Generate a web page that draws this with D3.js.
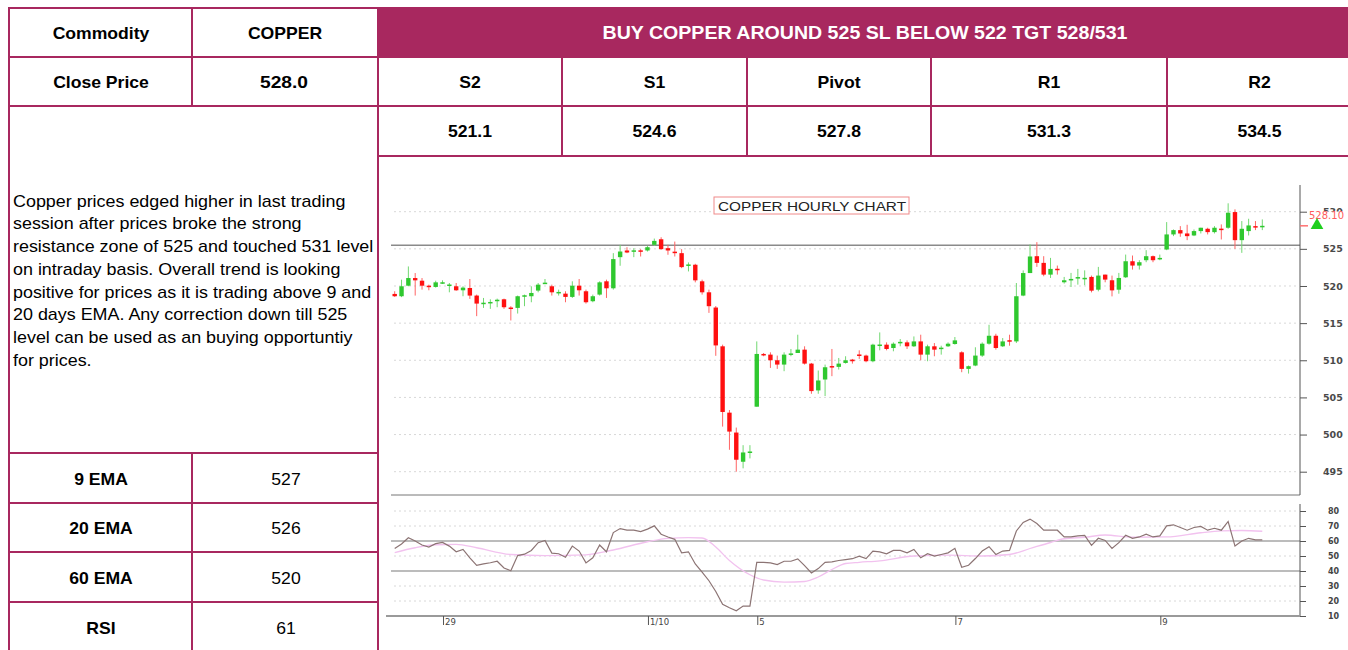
<!DOCTYPE html>
<html>
<head>
    <meta charset="utf-8">
    <title>Copper Hourly Chart</title>
    <script src="https://d3js.org/d3.v7.min.js"></script>
    <style>
        body { margin: 0; background: #fff; }
        svg { display: block; font-family: "Liberation Sans", Arial, sans-serif; }
    </style>
</head>
<body>
    <svg id="page" width="1348" height="650"></svg>

    <script>
        // ---- table content ----
        var commodity = "COPPER";
        var closePrice = "528.0";
        var callText = "BUY COPPER AROUND 525 SL BELOW 522 TGT 528/531";
        var pivotNames = ["S2", "S1", "Pivot", "R1", "R2"];
        var pivotValues = ["521.1", "524.6", "527.8", "531.3", "534.5"];
        var indNames = ["9 EMA", "20 EMA", "60 EMA", "RSI"];
        var indValues = ["527", "526", "520", "61"];
        var commentLines = [
            "Copper prices edged higher in last trading",
            "session after prices broke the strong",
            "resistance zone of 525 and touched 531 level",
            "on intraday basis. Overall trend is looking",
            "positive for prices as it is trading above 9 and",
            "20 days EMA. Any correction down till 525",
            "level can be used as an buying opportuntiy",
            "for prices."
        ];

        // ---- hourly candles ----
        var opens = [518.93, 518.62, 520.04, 521.07, 520.71, 520.04, 519.87, 520.45, 520.1, 519.96,
            519.42, 519.73, 518.71, 517.65, 517.75, 518.05, 518.21, 517.10, 517.05, 518.65,
            518.62, 519.38, 520.35, 519.96, 519.12, 518.97, 518.53, 520.04, 519.29, 517.95,
            518.84, 520.63, 519.69, 523.88, 524.78, 524.75, 524.8, 524.78, 525.54, 526.29,
            525.09, 524.62, 524.42, 522.8, 522.86, 520.63, 519.15, 517.1, 511.88, 502.95,
            500.27, 496.34, 497.65, 503.75, 510.85, 510.76, 510.0, 509.42, 510.85, 510.98,
            511.43, 509.55, 505.94, 507.41, 509.22, 509.11, 509.64, 510.09, 510.78, 510.63,
            509.87, 512.06, 512.10, 511.65, 512.44, 512.41, 511.88, 512.54, 510.76, 511.88,
            511.6, 511.88, 512.19, 511.07, 508.84, 509.29, 510.63, 512.23, 513.30, 511.88,
            512.7, 512.54, 518.71, 521.74, 524.01, 523.11, 521.53, 522.32, 520.5, 520.9,
            521.15, 521.05, 521.22, 519.50, 521.53, 520.77, 519.50, 521.17, 523.33, 522.75,
            523.47, 524.01, 523.70, 524.91, 526.94, 527.52, 527.07, 526.80, 527.39, 527.70,
            527.25, 527.72, 527.84, 529.95, 526.17, 527.39, 528.06, 528.08];
        var highs = [519.29, 520.85, 522.63, 521.74, 521.07, 520.18, 520.71, 520.76, 520.4, 520.40,
            519.96, 520.94, 518.84, 518.39, 518.21, 518.30, 518.30, 517.28, 518.71, 518.84,
            519.96, 520.40, 520.94, 520.18, 519.51, 519.29, 520.63, 520.94, 519.51, 518.84,
            520.63, 520.85, 524.42, 525.54, 525.22, 525.09, 524.96, 525.40, 526.38, 526.56,
            525.54, 525.98, 524.96, 523.17, 522.99, 520.85, 519.51, 517.3, 512.10, 503.30,
            500.94, 498.57, 498.57, 512.54, 510.98, 511.07, 510.63, 511.07, 511.52, 513.44,
            511.88, 509.64, 508.62, 509.42, 511.52, 510.31, 510.54, 510.18, 511.34, 510.76,
            512.23, 513.75, 512.41, 512.41, 512.86, 512.68, 513.21, 513.44, 512.10, 512.32,
            511.96, 512.41, 513.13, 511.21, 509.29, 511.75, 512.41, 514.78, 513.57, 512.99,
            513.44, 520.4, 522.1, 525.6, 525.90, 524.01, 523.78, 522.75, 521.22, 521.76,
            522.3, 522.1, 521.40, 522.57, 521.53, 521.40, 521.76, 524.23, 524.10, 523.47,
            524.82, 524.10, 524.23, 528.60, 527.61, 528.06, 528.24, 527.61, 527.84, 527.84,
            528.06, 528.29, 531.13, 530.32, 528.74, 529.05, 528.74, 528.96];
        var lows = [518.53, 518.5, 519.96, 518.71, 519.51, 519.42, 519.78, 520.27, 519.15, 519.35,
            518.62, 518.26, 515.94, 517.05, 516.92, 517.14, 516.92, 515.36, 516.29, 517.28,
            517.81, 519.15, 520.27, 518.71, 518.71, 517.81, 518.39, 518.71, 517.63, 517.81,
            518.71, 518.39, 519.51, 522.72, 524.42, 523.88, 523.97, 524.64, 525.40, 524.87,
            524.20, 523.97, 522.40, 521.96, 520.49, 518.84, 516.38, 510.6, 501.07, 497.95,
            495.0, 495.45, 496.79, 503.75, 510.54, 508.97, 508.84, 508.53, 510.54, 510.98,
            509.42, 505.49, 505.49, 505.18, 507.86, 508.75, 509.55, 509.55, 510.18, 509.73,
            509.73, 511.34, 511.34, 511.21, 511.88, 511.52, 511.79, 510.0, 509.87, 510.54,
            510.76, 511.79, 512.10, 508.39, 508.21, 509.20, 510.45, 512.10, 511.43, 511.79,
            511.96, 512.32, 518.62, 521.74, 522.57, 521.31, 521.08, 521.53, 520.32, 519.86,
            520.18, 520.1, 519.14, 519.28, 520.50, 518.60, 518.96, 521.08, 522.21, 522.21,
            523.20, 523.20, 523.47, 524.82, 526.71, 526.62, 526.17, 526.71, 527.07, 526.94,
            527.07, 526.26, 527.70, 525.0, 524.46, 526.80, 527.52, 527.52];
        var closes = [518.62, 519.96, 521.07, 520.76, 520.04, 519.87, 520.49, 520.5, 520.2, 519.42,
            519.78, 518.71, 517.63, 517.75, 517.85, 518.15, 517.14, 516.92, 518.62, 518.75,
            519.06, 520.18, 520.45, 519.15, 519.2, 518.53, 520.04, 519.42, 517.81, 518.62,
            520.49, 519.69, 523.62, 524.64, 524.51, 524.8, 524.75, 525.22, 526.07, 524.96,
            524.78, 524.58, 522.54, 522.9, 520.76, 519.15, 517.28, 512.0, 503.04, 500.40,
            496.61, 497.59, 497.72, 510.85, 510.67, 510.0, 509.42, 510.76, 510.92, 511.43,
            509.55, 505.85, 507.28, 509.06, 509.18, 509.55, 510.0, 509.87, 510.74, 509.87,
            512.10, 512.12, 511.52, 512.23, 512.48, 511.88, 512.54, 510.76, 511.88, 511.43,
            511.7, 512.23, 512.68, 508.84, 509.2, 510.63, 512.23, 513.30, 511.65, 512.54,
            512.62, 518.62, 521.74, 523.97, 523.11, 521.53, 522.30, 522.28, 520.77, 520.95,
            521.2, 521.1, 519.37, 521.40, 520.86, 519.41, 521.08, 523.33, 522.75, 523.20,
            524.01, 523.47, 523.78, 526.94, 527.52, 527.07, 526.71, 527.39, 527.84, 527.25,
            527.84, 527.68, 529.86, 526.17, 527.70, 528.15, 528.0, 528.10];

        // ---- RSI and its average ----
        var rsi = [55, 58, 62.2, 60, 57.3, 56, 58.2, 59, 56.6, 52.8,
            54.4, 48.8, 43.8, 44.7, 45.5, 46.5, 42, 40.2, 50.3, 51.2,
            53.7, 58.9, 60.4, 51.9, 51.5, 49.2, 56.6, 53.3, 45.4, 48.8,
            57.3, 52.8, 65.6, 68.3, 67.2, 67.2, 66.3, 67.9, 70.1, 64.5,
            62.7, 61.1, 52.1, 52.8, 44.7, 39.3, 33.5, 26.3, 17.8, 15.5,
            13.5, 16.6, 16.6, 45.8, 45.8, 45.4, 44.3, 46.5, 46.5, 48.1,
            43.6, 38.7, 41.6, 45.8, 46.1, 47, 47.6, 48.2, 49.9, 48.3,
            53.3, 52.8, 51.5, 53.7, 53.7, 52.1, 54.4, 48.8, 51.5, 49.9,
            51, 52.1, 55.1, 42.5, 43.8, 48.3, 53.3, 56.2, 51, 53.3,
            53.7, 66.7, 72.4, 74.6, 71.7, 67.2, 67.2, 67.2, 62.7, 62.7,
            63.4, 63.8, 57.1, 61.8, 60.4, 55.1, 58.9, 63.8, 61.8, 62.7,
            64.5, 62.7, 63.4, 70.1, 70.8, 69, 67.2, 69, 69.7, 67.2,
            68.5, 67.2, 73, 56.6, 60, 61.8, 60.7, 60.7];
        var rsiAvgIdx = [0, 3, 6, 9, 12, 17, 22, 28, 32, 37, 40, 43, 45, 47, 49, 52, 54, 57, 60, 62,
            64, 66, 68, 71, 76, 81, 86, 90, 93, 96, 98, 101, 104, 108, 113, 118, 121, 124, 127];
        var rsiAvgVal = [52.3, 55.5, 57.5, 57.8, 55.5, 51, 50.3, 50.8, 54, 59.5, 61.8, 62.3, 62, 56, 47, 37.5, 34, 32.6, 33, 36,
            41, 45, 45.8, 46.8, 50, 50.6, 50, 51, 55, 59, 61.5, 62.5, 64, 62.5, 62.7, 65.5, 66.7, 67, 66.5];

        // ---- axes ----
        var priceTicks = [495, 500, 505, 510, 515, 520, 525, 530];
        var rsiTicks = [10, 20, 30, 40, 50, 60, 70, 80];
        var rsiBands = [40, 60];
        var levelLine = 525.5;
        var lastPrice = 528.10;
        var dateTickIdx = [7, 37, 53, 82, 112];
        var dateTickLabels = ["29", "1/10", "5", "7", "9"];
        var chartTitle = "COPPER HOURLY CHART";

        var svg = d3.select("#page");
        var tableColor = "#a8285f";

        // text helper: the source is stretched a little sideways
        function addText(g, x, y, s, o) {
            o = o || {};
            var size = o.size || 16;
            return g.append("text")
                .attr("transform", "translate(" + x + "," + (y + size * 0.36) + ") scale(" + (o.sx || 1.1) + ",1)")
                .attr("text-anchor", o.anchor || "middle")
                .attr("font-size", size)
                .attr("font-weight", o.weight || "normal")
                .attr("fill", o.fill || "#000")
                .text(s);
        }

        // ---------- table ----------
        var tbl = svg.append("g");
        tbl.append("rect").attr("x", 378).attr("y", 8).attr("width", 975).attr("height", 49)
            .attr("fill", tableColor);

        function hline(x1, x2, y) {
            tbl.append("line").attr("x1", x1).attr("x2", x2).attr("y1", y).attr("y2", y)
                .attr("stroke", tableColor).attr("stroke-width", 2);
        }
        function vline(x, y1, y2) {
            tbl.append("line").attr("x1", x).attr("x2", x).attr("y1", y1).attr("y2", y2)
                .attr("stroke", tableColor).attr("stroke-width", 2);
        }

        var pivX = [378, 562, 747, 931, 1167, 1352];
        var indY = [453, 503, 552, 602, 652];

        hline(8, 1348, 8);
        hline(8, 1348, 57);
        hline(8, 1348, 106);
        hline(378, 1348, 156);
        indY.slice(0, 4).forEach(function(y) { hline(8, 378, y); });
        vline(9, 8, 650);
        vline(192, 8, 106);
        vline(192, 453, 650);
        vline(378, 8, 650);
        pivX.slice(1, 5).forEach(function(x) { vline(x, 57, 156); });

        addText(tbl, 101, 33, "Commodity", { weight: "bold" });
        addText(tbl, 285, 33, commodity, { weight: "bold" });
        addText(tbl, 865, 33, callText, { weight: "bold", fill: "#fff", size: 17.8 });
        addText(tbl, 101, 82, "Close Price", { weight: "bold" });
        addText(tbl, 284, 82, closePrice, { weight: "bold", sx: 1.2 });

        pivotNames.forEach(function(n, i) {
            var cx = (pivX[i] + pivX[i + 1]) / 2;
            addText(tbl, cx, 82, n, { weight: "bold" });
            addText(tbl, cx, 131, pivotValues[i], { weight: "bold" });
        });

        commentLines.forEach(function(line, i) {
            addText(tbl, 13, 201 + i * 22.7, line, { anchor: "start", sx: 1.12 });
        });

        indNames.forEach(function(n, i) {
            var cy = (indY[i] + indY[i + 1]) / 2 + 1;
            addText(tbl, 101, cy, n, { weight: "bold" });
            addText(tbl, 286, cy, indValues[i]);
        });

        // ---------- price panel ----------
        var x = d3.scaleLinear().domain([0, closes.length - 1]).range([394.7, 1262.3]);
        var yP = d3.scaleLinear().domain([495, 530]).range([471.7, 211.7]);
        var yR = d3.scaleLinear().domain([10, 80]).range([616, 511]);

        var chart = svg.append("g").attr("font-family", "'DejaVu Sans', sans-serif");

        chart.selectAll(".pgrid").data(priceTicks).enter().append("line")
            .attr("x1", 394).attr("x2", 1297)
            .attr("y1", function(d) { return yP(d); })
            .attr("y2", function(d) { return yP(d); })
            .attr("stroke", "#d8d8d8").attr("stroke-dasharray", "2,3");

        chart.append("line").attr("x1", 391).attr("x2", 1300)
            .attr("y1", yP(levelLine)).attr("y2", yP(levelLine))
            .attr("stroke", "#8a8a8a").attr("stroke-width", 1.5);

        chart.append("line").attr("x1", 391).attr("x2", 1300).attr("y1", 495).attr("y2", 495)
            .attr("stroke", "#777");
        chart.append("line").attr("x1", 1300).attr("x2", 1300).attr("y1", 185).attr("y2", 495)
            .attr("stroke", "#555");

        var pAxis = chart.append("g").attr("transform", "translate(1300,0)")
            .call(d3.axisRight(yP).tickValues(priceTicks).tickSize(7).tickPadding(16));
        pAxis.select(".domain").remove();
        pAxis.selectAll("line").attr("stroke", "#555");
        pAxis.selectAll("text").attr("font-size", 9.5).attr("font-weight", "bold")
            .attr("fill", "#4a4a4a").attr("font-family", "'DejaVu Sans', sans-serif");

        // title box
        chart.append("rect").attr("x", 714).attr("y", 197).attr("width", 195).attr("height", 17)
            .attr("fill", "#fff").attr("stroke", "#f08a8a");
        chart.append("text").attr("x", 718).attr("y", 210.5)
            .attr("font-family", "'Liberation Sans', Arial, sans-serif")
            .attr("font-size", 13).attr("fill", "#222")
            .attr("textLength", 188).attr("lengthAdjust", "spacingAndGlyphs")
            .text(chartTitle);

        // candles
        var candles = chart.selectAll(".candle").data(closes).enter().append("g");
        candles.append("line")
            .attr("x1", function(d, i) { return x(i); })
            .attr("x2", function(d, i) { return x(i); })
            .attr("y1", function(d, i) { return yP(highs[i]); })
            .attr("y2", function(d, i) { return yP(lows[i]); })
            .attr("stroke", function(d, i) { return d >= opens[i] ? "#72d872" : "#ff6464"; })
            .attr("stroke-width", 1);
        candles.append("rect")
            .attr("x", function(d, i) { return x(i) - 2.2; })
            .attr("width", 4.4)
            .attr("y", function(d, i) { return yP(Math.max(d, opens[i])); })
            .attr("height", function(d, i) { return Math.max(1.5, Math.abs(yP(d) - yP(opens[i]))); })
            .attr("fill", function(d, i) { return d >= opens[i] ? "#2fc82f" : "#ff1010"; });

        // last price marker (sits over the top of the 530 label, as on the source)
        chart.append("line").attr("x1", 1300).attr("x2", 1308)
            .attr("y1", yP(lastPrice)).attr("y2", yP(lastPrice))
            .attr("stroke", "#ff7070").attr("stroke-width", 1.5);
        chart.append("rect").attr("x", 1308).attr("y", 211.5).attr("width", 38).attr("height", 9)
            .attr("fill", "#fff");
        chart.append("text").attr("x", 1309).attr("y", 219)
            .attr("font-size", 10).attr("fill", "#ff5c5c")
            .text(lastPrice.toFixed(2));
        chart.append("path")
            .attr("d", d3.symbol().type(d3.symbolTriangle).size(70))
            .attr("transform", "translate(1317," + (yP(lastPrice) - 0.5) + ")")
            .attr("fill", "#1fcf1f");

        // ---------- RSI panel ----------
        chart.selectAll(".rgrid").data(rsiTicks.filter(function(d) {
            return d > 10 && rsiBands.indexOf(d) < 0;
        })).enter().append("line")
            .attr("x1", 394).attr("x2", 1297)
            .attr("y1", function(d) { return yR(d); })
            .attr("y2", function(d) { return yR(d); })
            .attr("stroke", "#d8d8d8").attr("stroke-dasharray", "2,3");

        chart.selectAll(".rband").data(rsiBands).enter().append("line")
            .attr("x1", 391).attr("x2", 1300)
            .attr("y1", function(d) { return yR(d); })
            .attr("y2", function(d) { return yR(d); })
            .attr("stroke", "#7a7a7a").attr("stroke-width", 1.2);

        chart.append("line").attr("x1", 1300).attr("x2", 1300).attr("y1", 504).attr("y2", 617)
            .attr("stroke", "#555");

        var rAxis = chart.append("g").attr("transform", "translate(1300,0)")
            .call(d3.axisRight(yR).tickValues(rsiTicks).tickSize(6).tickPadding(22));
        rAxis.select(".domain").remove();
        rAxis.selectAll("line").attr("stroke", "#555");
        rAxis.selectAll("text").attr("font-size", 8).attr("font-weight", "bold")
            .attr("fill", "#444").attr("font-family", "'DejaVu Sans', sans-serif");

        chart.append("path")
            .datum(rsiAvgVal)
            .attr("fill", "none").attr("stroke", "#f2c2ef").attr("stroke-width", 1.3)
            .attr("d", d3.line()
                .x(function(d, i) { return x(rsiAvgIdx[i]); })
                .y(function(d) { return yR(d); })
                .curve(d3.curveMonotoneX));

        chart.append("path")
            .datum(rsi)
            .attr("fill", "none").attr("stroke", "#8c7474").attr("stroke-width", 1.2)
            .attr("d", d3.line()
                .x(function(d, i) { return x(i); })
                .y(function(d) { return yR(d); }));

        // time axis
        chart.append("line").attr("x1", 386).attr("x2", 1300).attr("y1", 616).attr("y2", 616)
            .attr("stroke", "#9a9a9a").attr("stroke-width", 2);

        var dTicks = chart.selectAll(".dtick").data(dateTickIdx).enter().append("g")
            .attr("transform", function(d) { return "translate(" + (x(d) + 1) + ",0)"; });
        dTicks.append("line").attr("y1", 616).attr("y2", 625).attr("stroke", "#555");
        dTicks.append("text").attr("x", 1.5).attr("y", 624.5)
            .attr("font-size", 8.5).attr("fill", "#444")
            .text(function(d, i) { return dateTickLabels[i]; });
    </script>
</body>
</html>
